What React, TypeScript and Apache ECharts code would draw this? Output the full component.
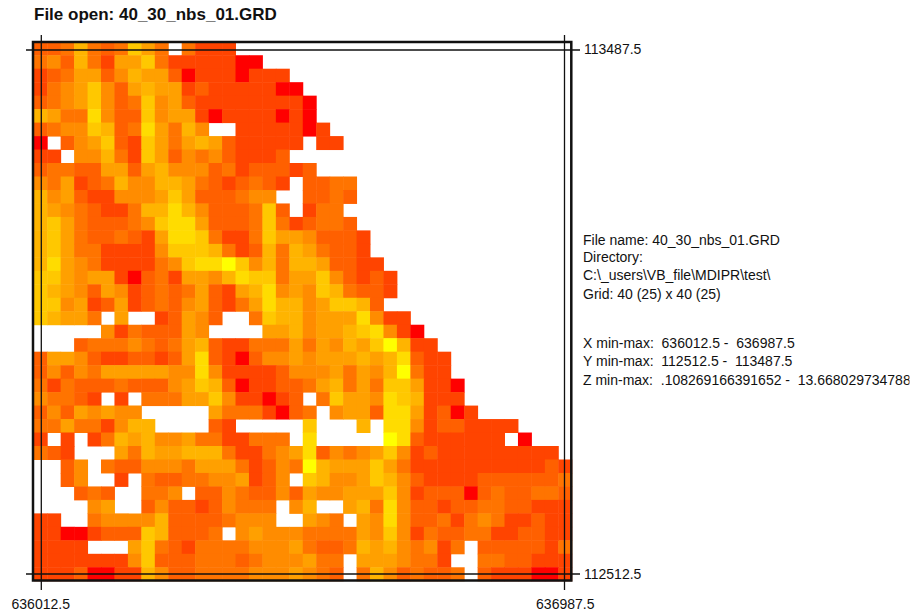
import React, { useEffect, useRef } from "react";
import * as echarts from "echarts";

const titleText = "File open: 40_30_nbs_01.GRD";
const infoLines = [
  "File name: 40_30_nbs_01.GRD",
  "Directory:",
  "C:\\_users\\VB_file\\MDIPR\\test\\",
  "Grid: 40 (25) x 40 (25)",
  "X min-max:  636012.5 -  636987.5",
  "Y min-max:  112512.5 -  113487.5",
  "Z min-max:  .108269166391652 -  13.6680297347889",
];
const infoY = [240, 257, 275, 294, 343, 361, 380];
const xTickLabels = ["636012.5", "636987.5"];
const yTickLabels = ["113487.5", "112512.5"];

// colour level of every cell, one string per row (top row first), "." = no data
const levelRows = [
  "2236323753.3111",
  "34263155731111100",
  "1235524655201110111",
  "13457425655121111100",
  "234" + "57423745211111111" + "0",
  "65338422745510111101" + "0",
  "2344762385364..11111" + "01",
  "0.24572175" + "3565211111" + ".11",
  "11.4463175" + "243421112.",
  "2332255256" + "4442312221" + "2",
  "4351236446" + "653212321." + "2233",
  "6452114445" + "75222344.." + "2232",
  "6543211366" + "864222372." + "133",
  "6753222347" + "8852223731" + "2332",
  "6753223215" + "8873113755" + "42221",
  "6753311114" + "7776312636" + "53221",
  "6854311113" + "4788974636" + "652211",
  "7754551023" + "1554687735" + "5742121",
  "7654254123" + "2352156845" + "4763221",
  "7745125123" + "2452135866" + "457762",
  "76553.5..1" + "2542..3766" + "45558411",
  ".....41322" + "254....556" + "455678410",
  "...2333432" + "3562113335" + "3546579611",
  "2554211221" + "2582102445" + "4555656821" + "1",
  "2424355555" + "4484111124" + "4453546931" + "1",
  "3132223222" + "4576201122" + "3563537751" + "10",
  "43321.1.33" + "3557411012" + ".375548761" + "11",
  "24254544.." + "...5333102" + "3.45528851" + "201",
  "335331466." + "...21....." + "7...6.8841" + "221111",
  "1.1.136564" + "453311333." + "8.....9821" + "11111.0",
  "321...5365" + "5666311345" + "8243457412" + "111111111.",
  "..24.32244" + "4355531243" + "9655575311" + "1111111121",
  "..24..1.32" + "233445124." + "7644576421" + "1112222223",
  "...232..33" + "4.22432242" + "5445557412" + "2202322332",
  "....45..24" + "22124333.4" + "6..5638422" + "1223322111",
  "11..344446" + "22223444.." + "543.548422" + "3134311211",
  "1100122276" + "2223.45444" + "3333547413" + "2233112211",
  "1111...573" + "2133334445" + "3223656434" + "13.2222213",
  "1111111472" + "2233323444" + "533.555433" + "1..3322111",
  "1112001164" + "2233334445" + "432.364232" + "23.2111001",
];
const levelColors = ["#ff0000", "#ff4400", "#ff6000", "#ff7400", "#ff8c00", "#ffa000", "#ffb400", "#ffc800", "#ffdc00", "#ffff00"];

const cols = Array.from({ length: 40 }, (_, i) => String(i));
const rows = Array.from({ length: 40 }, (_, i) => String(i));
const cells: [number, number, number][] = [];
levelRows.forEach((row, r) => {
  row.split("").forEach((ch, c) => {
    if (ch !== ".") cells.push([c, r, Number(ch)]);
  });
});

const FONT = "Liberation Sans";
const ink = "#111";

function line(x1: number, y1: number, x2: number, y2: number, lineWidth: number) {
  return { type: "line", silent: true, z: 50, shape: { x1, y1, x2, y2 }, style: { stroke: ink, lineWidth } };
}

export default function App() {
  const ref = useRef<HTMLDivElement>(null);
  useEffect(() => {
    const chart = echarts.init(ref.current!, null, { renderer: "svg" });
    chart.setOption({
      animation: false,
      backgroundColor: "#ffffff",
      grid: { left: 34, top: 42, width: 538, height: 539 },
      xAxis: {
        type: "category",
        data: cols,
        axisLine: { show: false },
        axisTick: { show: false },
        splitLine: { show: false },
        axisLabel: {
          interval: (i: number) => i === 0 || i === 39,
          formatter: (_: string, i: number) => (i === 0 ? xTickLabels[0] : xTickLabels[1]),
          margin: 16,
          color: ink,
          fontFamily: FONT,
          fontSize: 14,
        },
      },
      yAxis: {
        type: "category",
        data: rows,
        inverse: true,
        position: "right",
        axisLine: { show: false },
        axisTick: { show: false },
        splitLine: { show: false },
        axisLabel: {
          interval: (i: number) => i === 0 || i === 39,
          formatter: (_: string, i: number) => (i === 0 ? yTickLabels[0] : yTickLabels[1]),
          margin: 12,
          color: ink,
          fontFamily: FONT,
          fontSize: 14,
        },
      },
      visualMap: {
        show: false,
        type: "piecewise",
        dimension: 2,
        pieces: levelColors.map((color, i) => ({ value: i, color })),
      },
      series: [
        {
          type: "heatmap",
          data: cells,
          itemStyle: { borderWidth: 0 },
          emphasis: { disabled: true },
          progressive: 0,
        },
      ],
      graphic: [
        { type: "rect", silent: true, z: 50, shape: { x: 33, y: 42, width: 538.3, height: 538.5 }, style: { fill: "none", stroke: ink, lineWidth: 2.5 } },
        line(41.3, 35, 41.3, 590, 1.3),
        line(564.5, 35, 564.5, 590, 1.3),
        line(26, 50, 580, 50, 1.3),
        line(26, 574, 580, 574, 1.3),
        { type: "text", x: 34, y: 14, z: 60, style: { text: titleText, font: `bold 17px "${FONT}"`, fill: ink, textVerticalAlign: "middle" } },
        ...infoLines.map((t, i) => ({
          type: "text",
          x: 583,
          y: infoY[i],
          z: 60,
          style: { text: t, font: `14px "${FONT}"`, fill: ink, textVerticalAlign: "middle" },
        })),
        { type: "rect", silent: true, z: 70, shape: { x: 909.5, y: 370, width: 8, height: 20 }, style: { fill: "#ffffff" } },
      ],
    });
    return () => chart.dispose();
  }, []);
  return <div ref={ref} style={{ position: "fixed", left: 0, top: 0, width: 917, height: 615 }} />;
}
